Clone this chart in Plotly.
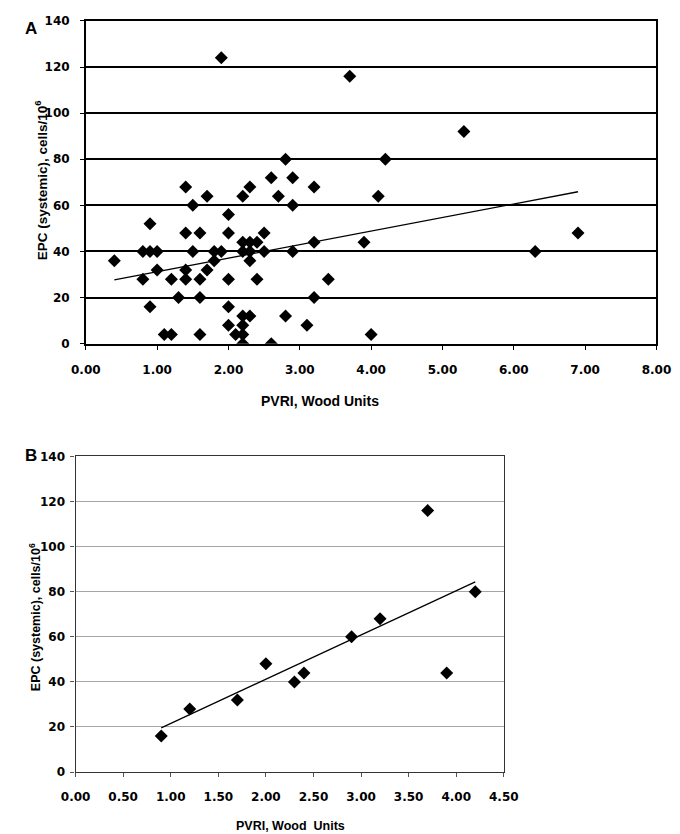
import plotly.graph_objects as go

# ---------------- Panel A data ----------------
a_pvri = [0.4, 0.8, 0.8, 0.9, 0.9, 0.9, 1.0, 1.0, 1.1, 1.2, 1.2, 1.3,
          1.4, 1.4, 1.4, 1.4, 1.5, 1.5, 1.6, 1.6, 1.6, 1.6, 1.7, 1.7,
          1.8, 1.8, 1.9, 1.9, 2.0, 2.0, 2.0, 2.0, 2.0, 2.1,
          2.2, 2.2, 2.2, 2.2, 2.2, 2.2, 2.2,
          2.3, 2.3, 2.3, 2.3, 2.3, 2.4, 2.4, 2.5, 2.5,
          2.6, 2.6, 2.7, 2.8, 2.8, 2.9, 2.9, 2.9, 3.1, 3.2, 3.2, 3.2,
          3.4, 3.7, 3.9, 4.0, 4.1, 4.2, 5.3, 6.3, 6.9]
a_epc = [36, 40, 28, 52, 40, 16, 40, 32, 4, 4, 28, 20,
         68, 48, 32, 28, 60, 40, 48, 28, 20, 4, 64, 32,
         36, 40, 124, 40, 56, 48, 28, 16, 8, 4,
         64, 44, 40, 12, 8, 4, 0,
         68, 44, 40, 36, 12, 44, 28, 48, 40,
         72, 0, 64, 80, 12, 72, 60, 40, 8, 68, 44, 20,
         28, 116, 44, 4, 64, 80, 92, 40, 48]
a_trend_x = [0.4, 6.9]
a_trend_y = [27.7, 65.9]
a_xticks = [0, 1, 2, 3, 4, 5, 6, 7, 8]

# ---------------- Panel B data ----------------
b_pvri = [0.9, 1.2, 1.7, 2.0, 2.3, 2.4, 2.9, 3.2, 3.7, 3.9, 4.2]
b_epc = [16, 28, 32, 48, 40, 44, 60, 68, 116, 44, 80]
b_trend_x = [0.9, 4.2]
b_trend_y = [19.6, 84.4]
b_xticks = [0, 0.5, 1, 1.5, 2, 2.5, 3, 3.5, 4, 4.5]

y_ticks = [0, 20, 40, 60, 80, 100, 120, 140]

W, H = 680, 834
FONT = "DejaVu Sans"
TFONT = "Liberation Sans"

def px_x(p):
    return p / W

def px_y(p):
    return 1 - p / H

fig = go.Figure()

fig.add_trace(go.Scatter(x=a_pvri, y=a_epc, mode="markers", xaxis="x", yaxis="y",
                         marker=dict(symbol="diamond", size=10, color="black"),
                         showlegend=False))
fig.add_trace(go.Scatter(x=a_trend_x, y=a_trend_y, mode="lines", xaxis="x", yaxis="y",
                         line=dict(color="black", width=1.3), showlegend=False))
fig.add_trace(go.Scatter(x=b_pvri, y=b_epc, mode="markers", xaxis="x2", yaxis="y2",
                         marker=dict(symbol="diamond", size=10, color="black"),
                         showlegend=False))
fig.add_trace(go.Scatter(x=b_trend_x, y=b_trend_y, mode="lines", xaxis="x2", yaxis="y2",
                         line=dict(color="black", width=1.3), showlegend=False))

tickfont = dict(family=FONT, size=12, color="black", weight="bold")

# Panel A geometry (pixels)
A_L, A_R, A_T, A_B = 65.7, 662.7, 6, 334.3
# Panel B geometry (pixels)
B_L, B_R, B_T, B_B = 55, 503, 449, 770

fig.update_layout(
    width=W, height=H,
    margin=dict(l=0, r=0, t=0, b=0),
    paper_bgcolor="white", plot_bgcolor="white",
    xaxis=dict(domain=[px_x(A_L), px_x(A_R)], range=[0, 8], tickvals=a_xticks,
               tickformat=".2f", showgrid=False, zeroline=False,
               showline=True, linecolor="black", linewidth=1.5, mirror=True,
               ticks="outside", ticklen=5, tickcolor="black", tickwidth=1,
               ticklabelstandoff=9, tickfont=tickfont, anchor="y"),
    yaxis=dict(domain=[px_y(A_B), px_y(A_T)], range=[0, 140], tickvals=y_ticks,
               showgrid=True, gridcolor="black", gridwidth=1.5, zeroline=False,
               showline=True, linecolor="black", linewidth=1.5, mirror=True,
               ticks="outside", ticklen=4, tickcolor="black", tickwidth=1,
               ticklabelstandoff=8, tickfont=tickfont, anchor="x"),
    xaxis2=dict(domain=[px_x(B_L), px_x(B_R)], range=[0, 4.5], tickvals=b_xticks,
                tickformat=".2f", showgrid=False, zeroline=False,
                showline=True, linecolor="#333333", linewidth=1.2, mirror=True,
                ticks="outside", ticklen=4, tickcolor="#555555", tickwidth=1,
                ticklabelstandoff=9, tickfont=tickfont, anchor="y2"),
    yaxis2=dict(domain=[px_y(B_B), px_y(B_T)], range=[0, 140], tickvals=y_ticks,
                showgrid=True, gridcolor="#a6a6a6", gridwidth=1, zeroline=False,
                showline=True, linecolor="#333333", linewidth=1.2, mirror=True,
                ticks="outside", ticklen=4, tickcolor="#555555", tickwidth=1,
                ticklabelstandoff=3, tickfont=tickfont, anchor="x2"),
    annotations=[
        dict(text="A", x=px_x(8), y=px_y(14), xref="paper", yref="paper",
             showarrow=False, xanchor="center", yanchor="middle",
             font=dict(family=TFONT, size=17, color="black", weight="bold")),
        dict(text="B", x=px_x(8), y=px_y(448), xref="paper", yref="paper",
             showarrow=False, xanchor="center", yanchor="middle",
             font=dict(family=TFONT, size=17, color="black", weight="bold")),
        dict(text="PVRI, Wood Units", x=px_x(311), y=px_y(393), xref="paper", yref="paper",
             showarrow=False, xanchor="center", yanchor="middle",
             font=dict(family=TFONT, size=14, color="black", weight="bold")),
        dict(text="PVRI, Wood  Units", x=px_x(280), y=px_y(825), xref="paper", yref="paper",
             showarrow=False, xanchor="center", yanchor="middle",
             font=dict(family=TFONT, size=12.5, color="black", weight="bold")),
        dict(text="EPC (systemic), cells/10<sup>6</sup>", x=px_x(19), y=px_y(168),
             xref="paper", yref="paper", showarrow=False, textangle=-90,
             xanchor="center", yanchor="middle",
             font=dict(family=TFONT, size=13.5, color="black", weight="bold")),
        dict(text="EPC (systemic), cells/10<sup>6</sup>", x=px_x(12), y=px_y(612),
             xref="paper", yref="paper", showarrow=False, textangle=-90,
             xanchor="center", yanchor="middle",
             font=dict(family=TFONT, size=12.5, color="black", weight="bold")),
    ],
)

fig.write_html("out.html")
